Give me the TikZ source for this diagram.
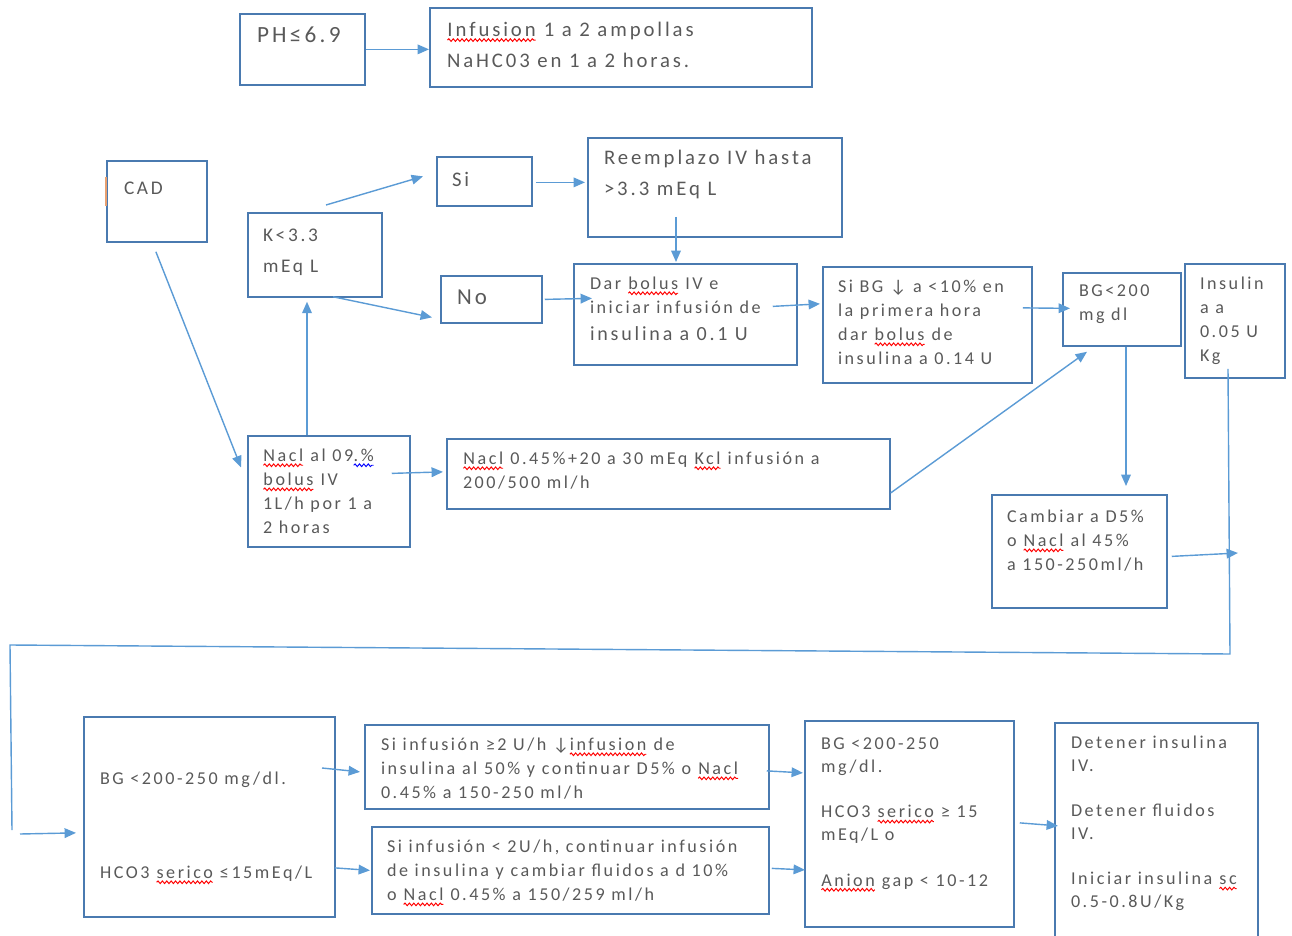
\documentclass[tikz,border=0pt]{standalone}
\usepackage{fontspec}
\setmainfont{Carlito}[LetterSpace=14]
\usetikzlibrary{arrows.meta,calc,decorations.pathmorphing}
\definecolor{boxc}{HTML}{4A7AB0}
\definecolor{arrc}{HTML}{5B9BD5}
\definecolor{txtc}{HTML}{595959}
\definecolor{markc}{HTML}{E8A070}
% wavy spell-check underline
\newcommand\sq[2][red]{\tikz[baseline=(sqw.base)]{\node[inner sep=0pt,outer sep=0pt] (sqw) {#2};
  \draw[#1,line width=0.55pt,decorate,decoration={snake,amplitude=0.75pt,segment length=2.5pt}]
  ([yshift=-2.1pt]sqw.base west) -- ([yshift=-2.1pt]sqw.base east);}}
% a flowchart box: name, left, top, width, height (in px units)
\newcommand\bx[5]{\node[box,minimum width=#4*0.02cm,minimum height=#5*0.02cm,anchor=north west] (#1) at (#2,#3) {};}
\begin{document}
\begin{tikzpicture}[x=0.02cm,y=-0.02cm,
  box/.style={draw=boxc,line width=1pt,inner sep=0pt},
  txt/.style={inner sep=0pt,outer sep=0pt,align=left,text=txtc,anchor=north west},
  fPH/.style={font=\fontsize{13.2}{15}\selectfont},
  fL/.style={font=\fontsize{11.8}{17.6}\selectfont},
  fK/.style={font=\fontsize{11}{17.6}\selectfont},
  fNo/.style={font=\fontsize{13}{15}\selectfont},
  fS/.style={font=\fontsize{10.3}{13.7}\selectfont},
  fR/.style={font=\fontsize{10.3}{13.1}\selectfont},
  arr/.style={draw=arrc,line width=0.8pt,-{Triangle[length=6.5pt,width=5.5pt]}},
  ln/.style={draw=arrc,line width=0.8pt}]
\useasboundingbox (0,0) rectangle (1292,936);

% boxes
\bx{ph}{239}{13}{125}{71}
\bx{inf}{429}{7}{382}{79}
\bx{cad}{106}{160}{100}{81}
\bx{k}{247}{212}{134}{84}
\bx{si}{436}{156}{95}{49}
\bx{no}{440}{275}{101}{47}
\bx{re}{587}{137}{254}{99}
\bx{dar}{573}{263}{223}{101}
\bx{sibg}{822}{266}{209}{116}
\bx{bgd}{1062}{272}{118}{73}
\bx{ins}{1184}{263}{100}{114}
\bx{nzero}{247}{435}{162}{111}
\bx{nhalf}{446}{438}{443}{70}
\bx{camb}{991}{494}{175}{113}
\bx{big}{83}{716}{251}{200}
\bx{hi}{364}{724}{404}{84}
\bx{lo}{371}{826}{397}{87}
\bx{crit}{804}{720}{209}{206}
\bx{det}{1054}{722}{203}{225}
\draw[markc,line width=1pt] ($(cad.north west)+(0,17)$) -- ($(cad.north west)+(0,46)$);

% texts
\node[txt,fPH] (phT) at (257,27) {PH≤6.9};
\node[txt,fL] (infT) at (447,22) {\sq{Infusion} 1 a 2 ampollas\\NaHC03 en 1 a 2 horas.};
\node[txt,fK] (cadT) at (124,182) {CAD};
\node[txt,fK] (kT) at (263,229) {K<3.3\\mEq L};
\node[txt,fL] (siT) at (452,172) {Si};
\node[txt,fNo] (noT) at (457,290) {No};
\node[txt,fL] (reT) at (604,150) {Reemplazo IV hasta\\>3.3 mEq L};
\node[txt,fS] (darT) at (590,277) {Dar \sq{bolus} IV e\\iniciar infusión de\\[1.8pt]{\fontsize{11.4}{13.7}\selectfont insulina a 0.1 U}};
\node[txt,fS] (sibgT) at (838,280) {Si BG ↓ a <10\% en\\la primera hora\\dar \sq{bolus} de\\insulina a 0.14 U};
\node[txt,fS] (bgdT) at (1079,285) {BG<200\\mg dl};
\node[txt,fS] (insT) at (1200,277) {Insulin\\a a\\0.05 U\\Kg};
\node[txt,fS] (nzeroT) at (263,449) {\sq{Nacl} al 09\sq[blue]{.\%}\\\sq{bolus} IV\\1L/h por 1 a\\2 horas};
\node[txt,fS] (nhalfT) at (463,452) {\sq{Nacl} 0.45\%+20 a 30 mEq \sq{Kcl} infusión a\\200/500 ml/h};
\node[txt,fS] (cambT) at (1007,510) {Cambiar a D5\%\\o \sq{Nacl} al 45\%\\a 150-250ml/h};
\node[txt,fS] (bigA) at (100,772) {BG <200-250 mg/dl.};
\node[txt,fS] (bigB) at (100,866) {HCO3 \sq{serico} ≤15mEq/L};
\node[txt,fS] (hiT) at (381,738) {Si infusión ≥2 U/h ↓\sq{infusion} de\\insulina al 50\% y continuar D5\% o \sq{Nacl}\\0.45\% a 150-250 ml/h};
\node[txt,fS] (loT) at (387,840) {Si infusión < 2U/h, continuar infusión\\de insulina y cambiar fluidos a d 10\%\\o \sq{Nacl} 0.45\% a 150/259 ml/h};
\node[txt,fR] (critT) at (821,738) {BG <200-250\\mg/dl.\\[12.6pt]HCO3 \sq{serico} ≥ 15\\mEq/L o\\[12.6pt]\sq{Anion} gap < 10-12};
\node[txt,fR] (detT) at (1071,736) {Detener insulina\\IV.\\[12.6pt]Detener fluidos\\IV.\\[12.6pt]Iniciar insulina \sq{sc}\\0.5-0.8U/Kg};

% connectors
\draw[arr] (ph.east) -- (inf.west |- ph.east);
\draw[arr] ($(cad.south)+(-1,9)$) -- ($(nzero.west)+(-6,-24)$);
\draw[arr] ($(nzero.north west)+(60,0)$) -- ($(k.south west)+(60,4)$);
\draw[arr] ($(k.north west)+(79,-7)$) -- ($(si.west)+(-13,-5)$);
\draw[arr] ($(k.south west)+(86,-1)$) -- ($(no.west)+(-8,18)$);
\draw[arr] ($(si.east)+(3,1)$) -- ($(re.west)+(-2,-5)$);
\draw[arr] ($(no.east)+(2,0)$) -- ($(dar.west)+(19,-16)$);
\draw[arr] ($(re.south west)+(89,-21)$) -- ($(dar.north west)+(103,-1)$);
\draw[arr] ($(dar.east)+(-25,-8)$) -- ($(sibg.west)+(-2,-21)$);
\draw[arr] ($(sibg.east)+(-10,-17)$) -- ($(bgd.west)+(8,-1)$);
\draw[arr] ($(nzero.east)+(-19,-18)$) -- ($(nhalf.west)+(-3,-2)$);
\draw[arr] ($(nhalf.east)+(0,19)$) -- ($(bgd.south west)+(25,5)$);
\draw[arr] ($(bgd.south west)+(64,0)$) -- ($(camb.north west)+(135,-8)$);
% return path from the low-dose insulin step to the resolution criteria
\coordinate (r1) at (1230,654);
\coordinate (r2) at (10,645);
\coordinate (r3) at (12,830);
\coordinate (r4) at (20,834);
\coordinate (rj) at (1238,553);
\draw[ln] ($(ins.south west)+(44,-10)$) -- (r1) -- (r2) -- (r3);
\draw[arr] (r4) -- ($(big.west)+(-7,16)$);
\draw[arr] ($(camb.east)+(4,5)$) -- (rj);
\draw[arr] ($(big.north west)+(239,52)$) -- ($(hi.west)+(-4,5)$);
\draw[arr] ($(big.east)+(-1,51)$) -- ($(lo.west)+(-1,0)$);
\draw[arr] ($(hi.east)+(-3,4)$) -- ($(crit.west)+(-1,-51)$);
\draw[arr] ($(lo.east)+(2,-2)$) -- ($(crit.west)+(1,46)$);
\draw[arr] ($(crit.east)+(5,-1)$) -- ($(det.west)+(4,-9.5)$);
\end{tikzpicture}
\end{document}
